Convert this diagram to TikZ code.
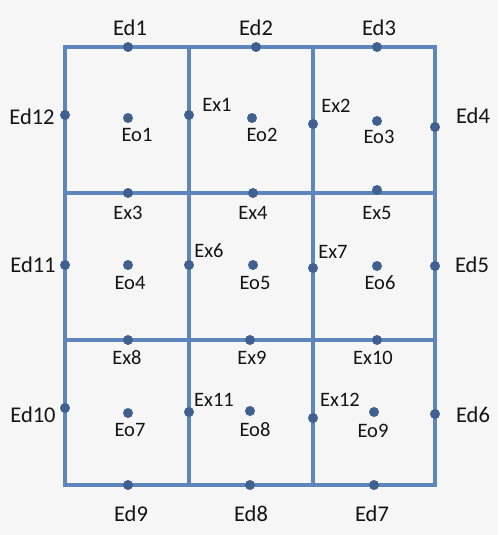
\documentclass[tikz,border=0pt]{standalone}
\usepackage{fontspec}
\setmainfont{Carlito}
\definecolor{gridblue}{HTML}{5F86BC}
\definecolor{dotblue}{HTML}{40618F}
\definecolor{bggray}{HTML}{F6F6F6}
\begin{document}
\begin{tikzpicture}[x=1pt,y=-1pt,
  gridline/.style={draw=gridblue,line width=3.5pt,line cap=rect},
  dot/.style={circle,fill=dotblue,inner sep=0pt,minimum size=10pt},
  bigtext/.style={inner sep=0pt,font=\fontsize{22.5}{26}\selectfont,text=black!92},
  smalltext/.style={inner sep=0pt,font=\fontsize{20.5}{24}\selectfont,text=black!92}]
\fill[bggray] (0,0) rectangle (498,535);
\useasboundingbox (0,0) rectangle (498,535);
% grid corners
\coordinate (a0) at (65,47);  \coordinate (a1) at (189,47);  \coordinate (a2) at (313,47);  \coordinate (a3) at (435,47);
\coordinate (b0) at (65,193); \coordinate (b3) at (435,193);
\coordinate (c0) at (65,340); \coordinate (c3) at (435,340);
\coordinate (d0) at (65,485); \coordinate (d1) at (189,485); \coordinate (d2) at (313,485); \coordinate (d3) at (435,485);
% grid lines
\draw[gridline] (a0) -- (a3) -- (d3) -- (d0) -- cycle;
\draw[gridline] (a1) -- (d1);
\draw[gridline] (a2) -- (d2);
\draw[gridline] (b0) -- (b3);
\draw[gridline] (c0) -- (c3);
% dots: outer edges
\node[dot] (Ed1) at (128,47) {};
\node[dot] (Ed2) at (256,47) {};
\node[dot] (Ed3) at (377,47) {};
\node[dot] (Ed4) at (435,127) {};
\node[dot] (Ed5) at (435,266) {};
\node[dot] (Ed6) at (435,414) {};
\node[dot] (Ed7) at (374,485) {};
\node[dot] (Ed8) at (250,485) {};
\node[dot] (Ed9) at (128,485) {};
\node[dot] (Ed10) at (65,408) {};
\node[dot] (Ed11) at (65,265) {};
\node[dot] (Ed12) at (65,115) {};
% dots: inner edges
\node[dot] (Ex1) at (189,115) {};
\node[dot] (Ex2) at (313,124) {};
\node[dot] (Ex3) at (128,193) {};
\node[dot] (Ex4) at (253,193) {};
\node[dot] (Ex5) at (377,190) {};
\node[dot] (Ex6) at (189,265) {};
\node[dot] (Ex7) at (313,268) {};
\node[dot] (Ex8) at (128,340) {};
\node[dot] (Ex9) at (250,340) {};
\node[dot] (Ex10) at (377,340) {};
\node[dot] (Ex11) at (189,412) {};
\node[dot] (Ex12) at (313,418) {};
% dots: cell centres
\node[dot] (Eo1) at (128,118) {};
\node[dot] (Eo2) at (252,118) {};
\node[dot] (Eo3) at (377,121) {};
\node[dot] (Eo4) at (128,265) {};
\node[dot] (Eo5) at (253,265) {};
\node[dot] (Eo6) at (377,266) {};
\node[dot] (Eo7) at (128,413) {};
\node[dot] (Eo8) at (250,411) {};
\node[dot] (Eo9) at (374,412) {};
% labels
\node[bigtext] (tEd1) at (130,28) {Ed1};
\node[bigtext] (tEd2) at (256,28) {Ed2};
\node[bigtext] (tEd3) at (379,28) {Ed3};
\node[bigtext] (tEd4) at (473,116) {Ed4};
\node[bigtext] (tEd5) at (472,265) {Ed5};
\node[bigtext] (tEd6) at (473,415) {Ed6};
\node[bigtext] (tEd7) at (372,514) {Ed7};
\node[bigtext] (tEd8) at (251,514) {Ed8};
\node[bigtext] (tEd9) at (131,514) {Ed9};
\node[bigtext] (tEd10) at (33,415) {Ed10};
\node[bigtext] (tEd11) at (33,265) {Ed11};
\node[bigtext] (tEd12) at (32,117) {Ed12};
\node[smalltext] (tEx1) at (217,105) {Ex1};
\node[smalltext] (tEx2) at (336,106) {Ex2};
\node[smalltext] (tEx3) at (128,213) {Ex3};
\node[smalltext] (tEx4) at (253,213) {Ex4};
\node[smalltext] (tEx5) at (377,213) {Ex5};
\node[smalltext] (tEx6) at (209,251) {Ex6};
\node[smalltext] (tEx7) at (333,252) {Ex7};
\node[smalltext] (tEx8) at (127,358) {Ex8};
\node[smalltext] (tEx9) at (252,358) {Ex9};
\node[smalltext] (tEx10) at (373,358) {Ex10};
\node[smalltext] (tEx11) at (214,400) {Ex11};
\node[smalltext] (tEx12) at (340,400) {Ex12};
\node[smalltext] (tEo1) at (137,135) {Eo1};
\node[smalltext] (tEo2) at (262,135) {Eo2};
\node[smalltext] (tEo3) at (379,137) {Eo3};
\node[smalltext] (tEo4) at (130,283) {Eo4};
\node[smalltext] (tEo5) at (255,283) {Eo5};
\node[smalltext] (tEo6) at (380,283) {Eo6};
\node[smalltext] (tEo7) at (130,430) {Eo7};
\node[smalltext] (tEo8) at (255,430) {Eo8};
\node[smalltext] (tEo9) at (373,431) {Eo9};
\end{tikzpicture}
\end{document}
